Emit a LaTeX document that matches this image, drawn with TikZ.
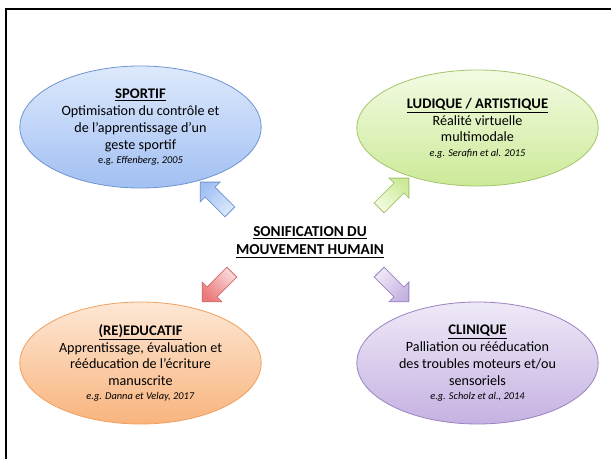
\documentclass[tikz,border=0pt]{standalone}
\usepackage{fontspec}
\setmainfont{Carlito}
\usetikzlibrary{shapes.geometric}
\definecolor{bleuA}{HTML}{DDE9FC}
\definecolor{bleuB}{HTML}{A2C0F3}
\definecolor{bleuL}{HTML}{6F94CF}
\definecolor{vertA}{HTML}{F3FBE3}
\definecolor{vertB}{HTML}{CCEA98}
\definecolor{vertL}{HTML}{A4C46A}
\definecolor{orangeA}{HTML}{FDE7D4}
\definecolor{orangeB}{HTML}{F9B47E}
\definecolor{orangeL}{HTML}{F0A060}
\definecolor{violetA}{HTML}{EFE9F7}
\definecolor{violetB}{HTML}{C5B2E2}
\definecolor{violetL}{HTML}{9B82C0}
\definecolor{rougeA}{HTML}{FBDADA}
\definecolor{rougeB}{HTML}{EA7A7A}
\definecolor{rougeL}{HTML}{D06A6A}
\newcommand{\titre}[1]{{\fontsize{11}{13}\selectfont\bfseries\underline{#1}}}
\newcommand{\exemple}[1]{{\fontsize{7.8}{9}\selectfont #1}}
\tikzset{
  domaine/.style={ellipse, top color=#1A, bottom color=#1B, draw=#1L, line width=0.6pt,
    minimum width=181pt, minimum height=91.5pt, inner sep=0pt, align=center,
    font=\fontsize{10.6}{12.6}\selectfont},
  fleche/.style={top color=#1B, bottom color=#1A, draw=#1L, line width=0.6pt}
}
\begin{document}
\begin{tikzpicture}[x=0.75pt,y=-0.75pt]
\useasboundingbox (0,0) rectangle (611,459);
\draw[line width=1.5pt] (6,459) -- (6,9) -- (611,9);
\node[domaine=bleu] (sportif) at (140.5,127) {\titre{SPORTIF}\\
Optimisation du contrôle et\\de l’apprentissage d’un\\geste sportif\\[-2pt]
\exemple{e.g. \textit{Effenberg, 2005}}};
\node[domaine=vert, minimum height=87pt] (ludique) at (477.5,128) {\titre{LUDIQUE / ARTISTIQUE}\\
Réalité virtuelle\\multimodale\\[-2pt]
\exemple{\textit{e.g. Serafin et al. 2015}}};
\node[domaine=orange] (reeducatif) at (140.5,363) {\titre{(RE)EDUCATIF}\\
Apprentissage, évaluation et\\rééducation de l’écriture\\manuscrite\\[-2pt]
\exemple{\textit{e.g. Danna et Velay, 2017}}};
\node[domaine=violet] (clinique) at (477.5,363) {\titre{CLINIQUE}\\
Palliation ou rééducation\\des troubles moteurs et/ou\\sensoriels\\[-2pt]
\exemple{\textit{e.g. Scholz et al., 2014}}};
\node[align=center, font=\fontsize{11.4}{13.8}\selectfont\bfseries] (sonif) at (310,242)
{\underline{SONIFICATION DU}\\\underline{MOUVEMENT HUMAIN}};
\foreach \pos/\ang/\c in {{(215,197)}/135/bleu,{(394,193)}/45/vert,{(217,287)}/225/rouge,{(394,287)}/315/violet}
\draw[fleche=\c, shading angle=\ang-90, shift=\pos, rotate=\ang]
(21,0) -- (7,14) -- (7,7) -- (-21,7) -- (-21,-7) -- (7,-7) -- (7,-14) -- cycle;
\end{tikzpicture}
\end{document}
